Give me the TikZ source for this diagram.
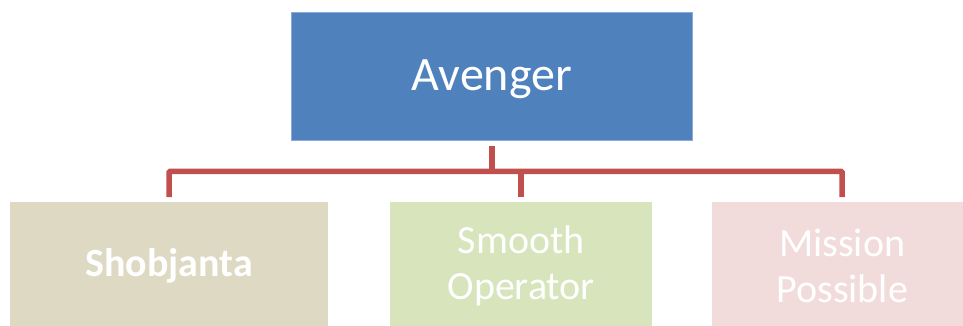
\documentclass[tikz,border=0pt]{standalone}
\usepackage{fontspec}
\setmainfont{Carlito}
\usepackage{tikz}
\usetikzlibrary{positioning,calc}

\definecolor{headblue}{HTML}{4F81BD}
\definecolor{headedge}{HTML}{8EAADB}
\definecolor{linkred}{HTML}{C0504D}
\definecolor{kidtan}{HTML}{DDD9C3}
\definecolor{kidgreen}{HTML}{D7E4BC}
\definecolor{kidpink}{HTML}{F2DCDB}

\tikzset{
  box/.style={anchor=north west, inner sep=0pt, minimum height=128pt,
    text=white, align=center},
  link/.style={draw=linkred, line width=5.5pt, rounded corners=1pt}
}

\begin{document}
\begin{tikzpicture}[x=1pt,y=-1pt]
\useasboundingbox (0,0) rectangle (963,325);
\clip (0,0) rectangle (963,325);

% head of the chart
\node[box, fill=headblue, draw=headedge, line width=0.8pt, minimum width=401pt,
  text height=31pt, text depth=3pt,
  font=\fontsize{48}{56}\selectfont] (head) at (291,12) {Avenger};

% the three teams below
\node[box, fill=kidtan, minimum width=318pt,
  font=\fontsize{40}{46}\selectfont\bfseries] (shob) at (10,202) {Shobjanta};
\node[box, fill=kidgreen, minimum width=262pt,
  font=\fontsize{40}{46}\selectfont] (smooth) at (390,202) {Smooth\\Operator};
\node[box, fill=kidpink, minimum width=260pt,
  font=\fontsize{40}{46}\selectfont] (mission) at (712,202) {Mission\\Possible};

% connectors
\coordinate (bus) at ($(head.south)!.5!(smooth.north)$);
\draw[link, shorten <=5pt] (head.south) -- (head.south |- bus);
\draw[link, shorten <=5pt, shorten >=5pt] (shob.north) |- (bus) -| (mission.north);
\draw[link, shorten <=5pt] (smooth.north) -- (smooth.north |- bus);
\end{tikzpicture}
\end{document}
